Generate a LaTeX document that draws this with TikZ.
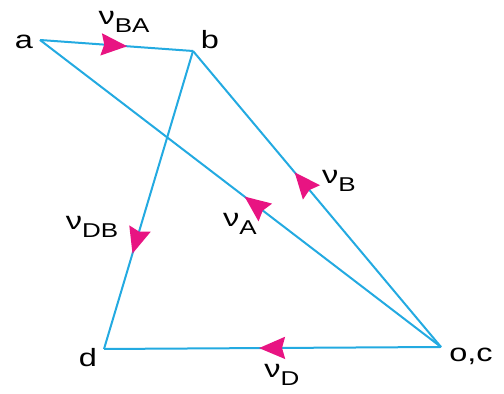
\documentclass[tikz,border=0pt]{standalone}
\usepackage{fontspec}
\setmainfont[FakeStretch=1.3]{Liberation Sans}
\usepackage{xcolor}
\usepackage{tikz}
\usetikzlibrary{arrows.meta, decorations.markings}

\definecolor{lineblue}{RGB}{35,170,225}
\definecolor{arrowpink}{RGB}{232,20,130}
\newcommand{\velsub}[1]{ν\raisebox{-4pt}{\fontsize{10}{10}\selectfont #1}}

\begin{document}
\begin{tikzpicture}[x=0.5pt, y=-0.5pt,
    vecline/.style={draw=lineblue, line width=1pt},
    midarrow/.style={postaction={decorate}, decoration={markings,
        mark=at position #1 with {\arrow{Stealth[length=13pt, width=11pt, inset=1.5pt, color=arrowpink]}}}},
    lbl/.style={font=\fontsize{12.5}{12.5}\selectfont, inner sep=0pt}]
    \useasboundingbox (0,0) rectangle (504,394);
    % 1. Các điểm
    \coordinate (a) at (40,40);
    \coordinate (b) at (193,51);
    \coordinate (d) at (104,349);
    \coordinate (oc) at (441,347);

    % 2. Các đoạn thẳng
    \draw[vecline, midarrow=0.57] (a) -- (b);
    \draw[vecline, midarrow=0.59] (oc) -- (b);
    \draw[vecline, midarrow=0.49] (oc) -- (a);
    \draw[vecline, midarrow=0.68] (b) -- (d);
    \draw[vecline, midarrow=0.54] (oc) -- (d);

    % 3. Nhãn
    \node[lbl] (lbla) at (24,42) {a};
    \node[lbl] (lblb) at (210,40) {b};
    \node[lbl] (lbld) at (88,358) {d};
    \node[lbl] (lbloc) at (471,356) {o,c};
    \node[lbl] (vba) at (124,22) {\velsub{BA}};
    \node[lbl] (vb) at (339,181) {\velsub{B}};
    \node[lbl] (va) at (240,224) {\velsub{A}};
    \node[lbl] (vdb) at (92,227) {\velsub{DB}};
    \node[lbl] (vd) at (282,375) {\velsub{D}};
\end{tikzpicture}
\end{document}
